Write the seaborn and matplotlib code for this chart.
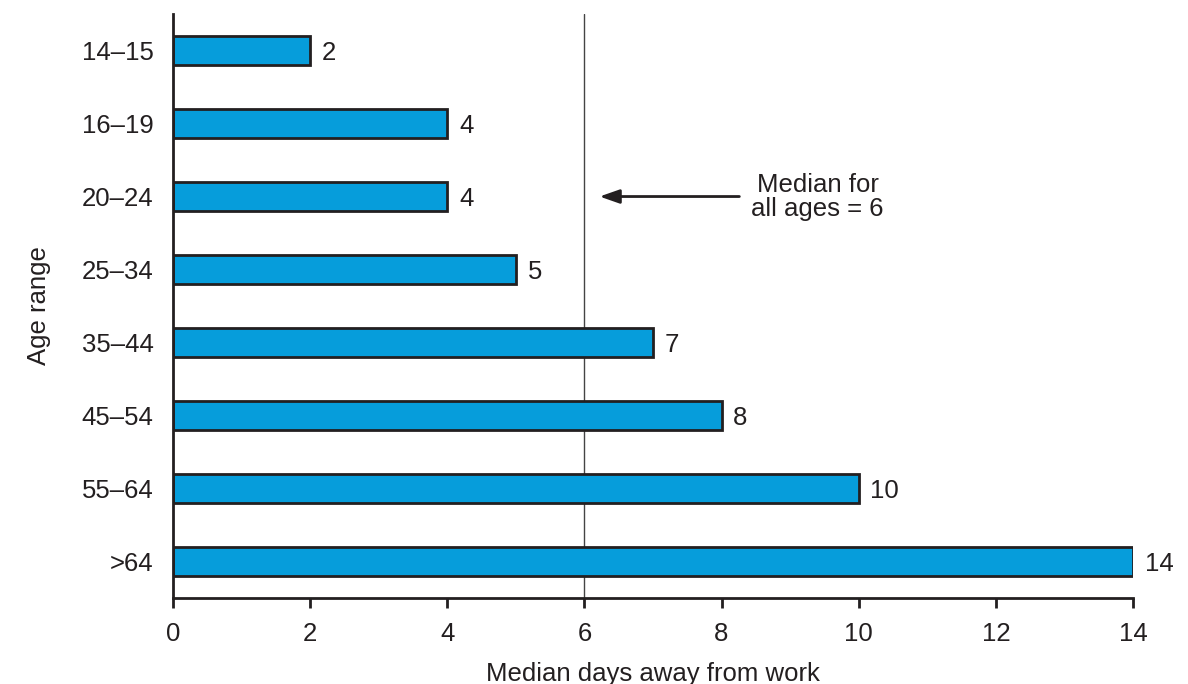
import matplotlib
matplotlib.use("Agg")
import matplotlib.pyplot as plt
import seaborn as sns
import pandas as pd

AGE_RANGES = ["14–15", "16–19", "20–24", "25–34", "35–44", "45–54", "55–64", ">64"]
MEDIAN_DAYS = [2, 4, 4, 5, 7, 8, 10, 14]
OVERALL_MEDIAN = 6
X_TICKS = [0, 2, 4, 6, 8, 10, 12, 14]

sns.set_theme(style="ticks")
plt.rcParams["font.family"] = ["Liberation Sans", "DejaVu Sans"]
FS = 18.5
INK = "#231f20"

df = pd.DataFrame({"age": AGE_RANGES, "days": MEDIAN_DAYS})

fig = plt.figure(figsize=(11.88, 6.84), dpi=100)
ax = fig.add_axes([0.1456, 0.1257, 0.8081, 0.8538])

sns.barplot(data=df, x="days", y="age", orient="h", color="#069ddb",
            saturation=1, width=0.41, edgecolor=INK, linewidth=2, ax=ax)

# value labels at the end of each bar
for i, v in enumerate(MEDIAN_DAYS):
    ax.text(v + 0.17, i, str(v), va="center_baseline", ha="left", fontsize=FS, color=INK)

ax.axvline(OVERALL_MEDIAN, color="#444444", lw=1, zorder=0.5)
ax.annotate("", xy=(OVERALL_MEDIAN + 0.18, 2), xytext=(8.3, 2),
            arrowprops=dict(arrowstyle="-|>,head_length=1.0,head_width=0.35",
                            color=INK, lw=2))
ax.text(9.4, 2, "Median for\nall ages = 6", ha="center", va="center",
        fontsize=FS, color=INK, linespacing=1.0)

ax.set_xlim(0, 14)
ax.set_ylim(7.5, -0.5)
ax.set_xticks(X_TICKS)
ax.set_xlabel("Median days away from work", fontsize=FS, color=INK, labelpad=12)
ax.set_ylabel("Age range", fontsize=FS, color=INK, labelpad=22)
ax.tick_params(axis="both", labelsize=FS, colors=INK, width=2, length=7)
ax.tick_params(axis="y", length=0, pad=14)
ax.tick_params(axis="x", pad=10)
sns.despine(ax=ax)
for s in ["left", "bottom"]:
    ax.spines[s].set_linewidth(2)
    ax.spines[s].set_color(INK)

fig.savefig("out.png", dpi=100)
